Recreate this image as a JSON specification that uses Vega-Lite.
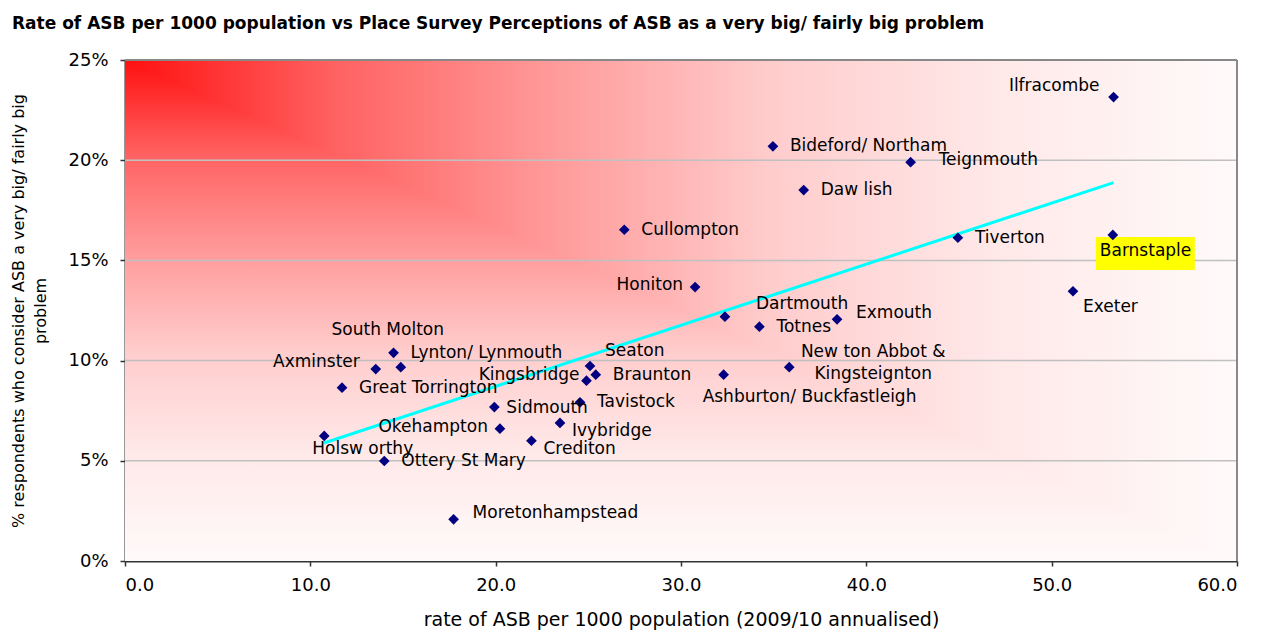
{
  "$schema": "https://vega.github.io/schema/vega-lite/v6.json",
  "width": 1112,
  "height": 501,
  "autosize": {"type": "none"},
  "padding": {"left": 125, "top": 60, "right": 34, "bottom": 72},
  "background": "#ffffff",
  "title": {
    "text": "Rate of ASB per 1000 population vs Place Survey Perceptions of ASB as a very big/ fairly big problem",
    "anchor": "start", "frame": "group", "dx": -113, "offset": 18,
    "font": "DejaVu Sans", "fontSize": 17, "fontWeight": "bold", "color": "#000000"
  },
  "datasets": {
    "towns": [
      {"name": "Ilfracombe", "rate": 53.34, "pct": 0.2315},
      {"name": "Bideford/ Northam", "rate": 34.96, "pct": 0.2069},
      {"name": "Teignmouth", "rate": 42.39, "pct": 0.1990},
      {"name": "Daw lish", "rate": 36.62, "pct": 0.1851},
      {"name": "Cullompton", "rate": 26.94, "pct": 0.1653},
      {"name": "Tiverton", "rate": 44.94, "pct": 0.1613},
      {"name": "Barnstaple", "rate": 53.30, "pct": 0.1627},
      {"name": "Honiton", "rate": 30.76, "pct": 0.1367},
      {"name": "Exeter", "rate": 51.15, "pct": 0.1346},
      {"name": "Dartmouth", "rate": 32.37, "pct": 0.1219},
      {"name": "Exmouth", "rate": 38.42, "pct": 0.1206},
      {"name": "Totnes", "rate": 34.23, "pct": 0.1169},
      {"name": "Lynton/ Lynmouth", "rate": 14.49, "pct": 0.1039},
      {"name": "South Molton", "rate": 14.88, "pct": 0.0967},
      {"name": "Axminster", "rate": 13.53, "pct": 0.0958},
      {"name": "Seaton", "rate": 25.09, "pct": 0.0973},
      {"name": "Braunton", "rate": 25.40, "pct": 0.0930},
      {"name": "Kingsbridge", "rate": 24.90, "pct": 0.0900},
      {"name": "New ton Abbot &\nKingsteignton", "rate": 35.84, "pct": 0.0967},
      {"name": "Ashburton/ Buckfastleigh", "rate": 32.30, "pct": 0.0930},
      {"name": "Great Torrington", "rate": 11.71, "pct": 0.0865},
      {"name": "Sidmouth", "rate": 19.93, "pct": 0.0768},
      {"name": "Tavistock", "rate": 24.55, "pct": 0.0792},
      {"name": "Okehampton", "rate": 20.23, "pct": 0.0660},
      {"name": "Ivybridge", "rate": 23.47, "pct": 0.0689},
      {"name": "Crediton", "rate": 21.93, "pct": 0.0600},
      {"name": "Holsw orthy", "rate": 10.75, "pct": 0.0624},
      {"name": "Ottery St Mary", "rate": 13.99, "pct": 0.0499},
      {"name": "Moretonhampstead", "rate": 17.73, "pct": 0.0208}
    ],
    "trend": [
      {"rate": 10.74, "pct": 0.0589},
      {"rate": 53.34, "pct": 0.1888}
    ],
    "plotbox": [{"rate": 0, "rate2": 60, "pct": 0, "pct2": 0.25}],
    "grid": [
      {"rate": 0, "rate2": 60, "pct": 0.05},
      {"rate": 0, "rate2": 60, "pct": 0.10},
      {"rate": 0, "rate2": 60, "pct": 0.15},
      {"rate": 0, "rate2": 60, "pct": 0.20}
    ],
    "topedge": [{"rate": 0, "rate2": 60, "pct": 0.25}],
    "rightedge": [{"rate": 60, "pct": 0, "pct2": 0.25}],
    "diag": [{"rate": 0, "pct": 0.25}, {"rate": 60, "pct": 0}]
  },
  "data": {"name": "towns"},
  "encoding": {
    "x": {
      "field": "rate", "type": "quantitative",
      "scale": {"domain": [0, 60], "nice": false},
      "axis": {
        "values": [0, 10, 20, 30, 40, 50, 60], "format": ".1f",
        "title": "rate of ASB per 1000 population (2009/10 annualised)",
        "labelPadding": 10, "titlePadding": 16, "titleFontSize": 19
      }
    },
    "y": {
      "field": "pct", "type": "quantitative",
      "scale": {"domain": [0, 0.25], "nice": false},
      "axis": {
        "values": [0, 0.05, 0.1, 0.15, 0.2, 0.25], "format": ".0%",
        "title": ["% respondents who consider ASB a very big/ fairly big", "problem"],
        "labelPadding": 12, "titlePadding": 19, "titleFontSize": 16, "titleLineHeight": 22
      }
    }
  },
  "layer": [
    {
      "data": {"name": "plotbox"},
      "mark": {"type": "rect", "fill": {"gradient": "linear", "x1": 0, "y1": 0, "x2": 0, "y2": 1,
        "stops": [
          {"offset": 0, "color": "#ff1010"},
          {"offset": 0.19, "color": "#ff6262"},
          {"offset": 0.38, "color": "#ff9999"},
          {"offset": 0.58, "color": "#ffcccc"},
          {"offset": 0.78, "color": "#ffe8e8"},
          {"offset": 1, "color": "#fffafa"}
        ]}},
      "encoding": {"x2": {"field": "rate2"}, "y2": {"field": "pct2"}}
    },
    {
      "data": {"name": "diag"},
      "mark": {"type": "area", "fill": {"gradient": "linear", "x1": 0, "y1": 0, "x2": 1, "y2": 0,
        "stops": [
          {"offset": 0, "color": "#ff1010"},
          {"offset": 0.19, "color": "#ff6262"},
          {"offset": 0.38, "color": "#ff9999"},
          {"offset": 0.58, "color": "#ffcccc"},
          {"offset": 0.78, "color": "#ffe8e8"},
          {"offset": 1, "color": "#fffafa"}
        ]}},
      "encoding": {"y2": {"datum": 0.25}}
    },
    {
      "data": {"name": "grid"},
      "mark": {"type": "rule", "color": "#c0c0c0", "strokeWidth": 1.5},
      "encoding": {"x2": {"field": "rate2"}}
    },
    {
      "data": {"name": "topedge"},
      "mark": {"type": "rule", "color": "#888888", "strokeWidth": 2},
      "encoding": {"x2": {"field": "rate2"}}
    },
    {
      "data": {"name": "rightedge"},
      "mark": {"type": "rule", "color": "#888888", "strokeWidth": 2},
      "encoding": {"y2": {"field": "pct2"}}
    },
    {
      "transform": [{"filter": {"field": "name", "equal": "Barnstaple"}}],
      "mark": {"type": "point", "shape": "M-0.34,0.04H1.64V0.7H-0.34Z", "filled": true, "color": "#ffff00", "opacity": 1, "size": 10000, "strokeWidth": 0}
    },
    {
      "data": {"name": "trend"},
      "mark": {"type": "line", "color": "#00ffff", "strokeWidth": 3},
      "encoding": {}
    },
    {
      "mark": {"type": "point", "shape": "diamond", "filled": true, "color": "#000080", "opacity": 1, "size": 115}
    },
    {
      "transform": [{"filter": {"field": "name", "oneOf": ["Bideford/ Northam", "Daw lish", "Cullompton", "Tiverton", "Totnes", "Lynton/ Lynmouth", "Great Torrington", "Tavistock", "Ottery St Mary", "Braunton"]}}],
      "mark": {"type": "text", "align": "left", "dx": 17, "dy": 0},
      "encoding": {"text": {"field": "name"}}
    },
    {
      "transform": [{"filter": {"field": "name", "oneOf": ["Ivybridge", "Crediton"]}}],
      "mark": {"type": "text", "align": "left", "dx": 12, "dy": 8},
      "encoding": {"text": {"field": "name"}}
    },
    {
      "transform": [{"filter": {"field": "name", "oneOf": ["Sidmouth"]}}],
      "mark": {"type": "text", "align": "left", "dx": 12, "dy": 1},
      "encoding": {"text": {"field": "name"}}
    },
    {
      "transform": [{"filter": {"field": "name", "oneOf": ["Teignmouth"]}}],
      "mark": {"type": "text", "align": "left", "dx": 28, "dy": -2},
      "encoding": {"text": {"field": "name"}}
    },
    {
      "transform": [{"filter": {"field": "name", "oneOf": ["Exmouth", "Moretonhampstead"]}}],
      "mark": {"type": "text", "align": "left", "dx": 19, "dy": -6},
      "encoding": {"text": {"field": "name"}}
    },
    {
      "transform": [{"filter": {"field": "name", "oneOf": ["Dartmouth"]}}],
      "mark": {"type": "text", "align": "left", "dx": 31, "dy": -13},
      "encoding": {"text": {"field": "name"}}
    },
    {
      "transform": [{"filter": {"field": "name", "oneOf": ["Seaton"]}}],
      "mark": {"type": "text", "align": "left", "dx": 15, "dy": -15},
      "encoding": {"text": {"field": "name"}}
    },
    {
      "transform": [{"filter": {"field": "name", "oneOf": ["Exeter"]}}],
      "mark": {"type": "text", "align": "left", "dx": 10, "dy": 16},
      "encoding": {"text": {"field": "name"}}
    },
    {
      "transform": [{"filter": {"field": "name", "oneOf": ["Barnstaple"]}}],
      "mark": {"type": "text", "align": "left", "dx": -13, "dy": 16},
      "encoding": {"text": {"field": "name"}}
    },
    {
      "transform": [{"filter": {"field": "name", "oneOf": ["Okehampton", "Honiton"]}}],
      "mark": {"type": "text", "align": "right", "dx": -12, "dy": -2},
      "encoding": {"text": {"field": "name"}}
    },
    {
      "transform": [{"filter": {"field": "name", "oneOf": ["Axminster"]}}],
      "mark": {"type": "text", "align": "right", "dx": -16, "dy": -7},
      "encoding": {"text": {"field": "name"}}
    },
    {
      "transform": [{"filter": {"field": "name", "oneOf": ["Kingsbridge"]}}],
      "mark": {"type": "text", "align": "right", "dx": -7, "dy": -6},
      "encoding": {"text": {"field": "name"}}
    },
    {
      "transform": [{"filter": {"field": "name", "oneOf": ["Ilfracombe"]}}],
      "mark": {"type": "text", "align": "right", "dx": -14, "dy": -11},
      "encoding": {"text": {"field": "name"}}
    },
    {
      "transform": [{"filter": {"field": "name", "oneOf": ["Holsw orthy"]}}],
      "mark": {"type": "text", "align": "left", "dx": -12, "dy": 13},
      "encoding": {"text": {"field": "name"}}
    },
    {
      "transform": [{"filter": {"field": "name", "oneOf": ["Ashburton/ Buckfastleigh"]}}],
      "mark": {"type": "text", "align": "left", "dx": -21, "dy": 22},
      "encoding": {"text": {"field": "name"}}
    },
    {
      "transform": [{"filter": {"field": "name", "oneOf": ["New ton Abbot &\nKingsteignton"]}}],
      "mark": {"type": "text", "align": "center", "dx": 84, "dy": -15, "lineBreak": "\n", "lineHeight": 22},
      "encoding": {"text": {"field": "name"}}
    },
    {
      "transform": [{"filter": {"field": "name", "oneOf": ["South Molton"]}}],
      "mark": {"type": "text", "align": "center", "dx": -13, "dy": -37},
      "encoding": {"text": {"field": "name"}}
    }
  ],
  "config": {
    "font": "DejaVu Sans",
    "view": {"stroke": null},
    "text": {"font": "DejaVu Sans", "fontSize": 17, "color": "#000000", "baseline": "middle"},
    "axis": {
      "labelFont": "DejaVu Sans", "labelFontSize": 18, "labelColor": "#000000",
      "titleFont": "DejaVu Sans", "titleFontWeight": "normal", "titleColor": "#000000",
      "domainColor": "#333333", "domainWidth": 2, "tickColor": "#333333", "tickSize": 5, "tickWidth": 1.5,
      "grid": false, "zindex": 1
    }
  }
}
